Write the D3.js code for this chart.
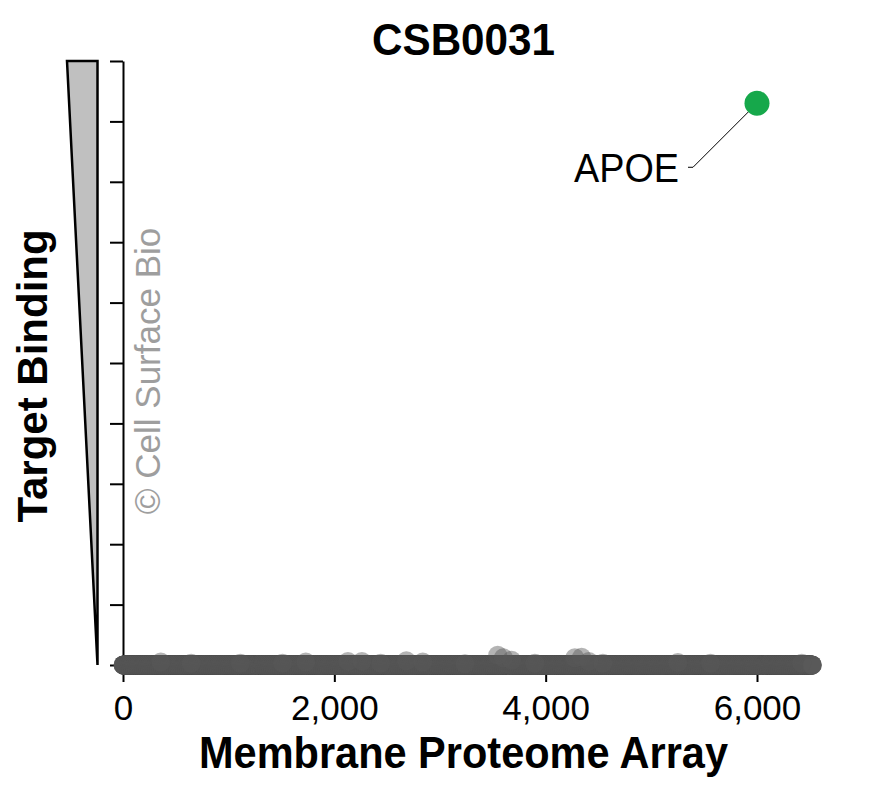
<!DOCTYPE html>
<html>
<head>
<meta charset="utf-8">
<script src="https://cdn.jsdelivr.net/npm/d3@7"></script>
<style>
  body { margin: 0; background: #fff; }
  text { font-family: "Liberation Sans", Arial, sans-serif; }
</style>
</head>
<body>
<div class="chart"></div>
<script>
// data
const title = "CSB0031"
const xTicks = [0, 2000, 4000, 6000]
const yTicks = [0, 1, 2, 3, 4, 5, 6, 7, 8, 9, 10]
const arraySize = 6525            // proteins on the array, all ~0 binding
const raisedX = [358, 645, 1111, 1509, 1730, 2129, 2261, 2439, 2682, 2837, 3236, 3546, 3600, 3678, 3898, 4276, 4340, 4409, 4541, 5251, 5560, 6424]
const raisedY = [0.05, 0.03, 0.03, 0.03, 0.05, 0.06, 0.06, 0.03, 0.07, 0.05, 0.02, 0.16, 0.12, 0.08, 0.03, 0.12, 0.13, 0.06, 0.03, 0.04, 0.03, 0.03]
const hitName = ["APOE"]
const hitX = [6000]
const hitY = [9.3]

let width = 877, height = 788

let svg = d3.select(".chart")
.append("svg")
.attr("width", width)
.attr("height", height)

let x = d3.scaleLinear()
.domain([0, 6000])
.range([123, 757])

let y = d3.scaleLinear()
.domain([0, 10])
.range([665, 61])

// grey wedge next to the y axis
svg.append("path")
.attr("d", `M67,${y(10)} L97.5,${y(10)} L97.5,${y(0)} Z`)
.style("fill", "#c0c0c0")
.style("stroke", "#000")
.style("stroke-width", 2.5)
.style("stroke-linejoin", "miter")

let yAxis = svg.append("g")
.attr("transform", "translate(123,0)")
.call(d3.axisLeft(y).tickValues(yTicks).tickFormat("").tickSize(13).tickSizeOuter(0))

yAxis.selectAll("path, line")
.style("stroke", "#000")
.style("stroke-width", 2)

let xAxis = svg.append("g")
.attr("transform", `translate(0,${y(0)})`)
.call(d3.axisBottom(x).tickValues(xTicks).tickFormat(d3.format(",")).tickSize(17).tickSizeOuter(0))

xAxis.selectAll("path, line")
.style("stroke", "#000")
.style("stroke-width", 2)

xAxis.selectAll("text")
.attr("y", 55)
.attr("dy", 0)
.style("font-size", "35px")
.style("fill", "#000")

// watermark
svg.append("text")
.attr("transform", "translate(160,371) rotate(-90)")
.attr("text-anchor", "middle")
.style("font-size", "35px")
.style("fill", "#9e9e9e")
.text("\u00a9 Cell Surface Bio")

// all array points, zero unless listed as raised
let nodes = d3.range(arraySize).map(i => ({ x: i, y: 0 }))
raisedX.forEach((v, i) => nodes.push({ x: v, y: raisedY[i] }))

svg.append("g")
.selectAll("circle")
.data(nodes)
.enter()
.append("circle")
.attr("cx", d => x(d.x))
.attr("cy", d => y(d.y))
.attr("r", 9.5)
.style("fill", "#585858")
.style("fill-opacity", 0.45)

// labelled hit
hitName.forEach((name, i) => {
  let cx = x(hitX[i]), cy = y(hitY[i])
  svg.append("path")
  .attr("d", `M${cx - 69},${cy + 64} H${cx - 64} L${cx},${cy}`)
  .style("fill", "none")
  .style("stroke", "#000")
  .style("stroke-width", 1)

  svg.append("circle")
  .attr("cx", cx)
  .attr("cy", cy)
  .attr("r", 12.5)
  .style("fill", "#16a84b")

  svg.append("text")
  .attr("x", cx - 78)
  .attr("y", cy + 79)
  .attr("text-anchor", "end")
  .attr("textLength", 105)
  .attr("lengthAdjust", "spacingAndGlyphs")
  .style("font-size", "40px")
  .text(name)
})

svg.append("text")
.attr("x", 463.5)
.attr("y", 55)
.attr("text-anchor", "middle")
.attr("textLength", 183)
.attr("lengthAdjust", "spacingAndGlyphs")
.style("font-size", "44px")
.style("font-weight", "bold")
.text(title)

svg.append("text")
.attr("x", 463.5)
.attr("y", 768)
.attr("text-anchor", "middle")
.attr("textLength", 529)
.attr("lengthAdjust", "spacingAndGlyphs")
.style("font-size", "44px")
.style("font-weight", "bold")
.text("Membrane Proteome Array")

svg.append("text")
.attr("transform", "translate(47,376) rotate(-90)")
.attr("text-anchor", "middle")
.style("font-size", "42px")
.style("font-weight", "bold")
.text("Target Binding")
</script>
</body>
</html>
